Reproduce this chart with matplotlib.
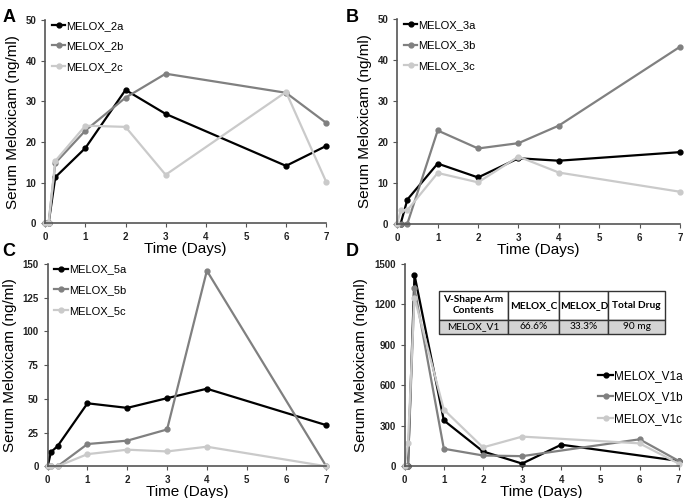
import matplotlib
matplotlib.use('Agg')
import matplotlib.pyplot as plt

plt.rcParams['font.family'] = ['Liberation Sans', 'DejaVu Sans']

# colours of the three replicates
colors = ['#000000', '#808080', '#cacaca']

# Panel A
time_a = [0, 0.083, 0.25, 1, 2, 3, 6, 7]
melox_2a = [0, 0, 11.3, 18.5, 32.8, 26.9, 14.1, 19.0]
melox_2b = [0, 0, 14.8, 22.8, 30.9, 36.8, 32.1, 24.7]
melox_2c = [0, 0, 15.3, 24.0, 23.7, 11.9, 32.3, 10.2]

# Panel B
time_b = [0, 0.083, 0.25, 1, 2, 3, 4, 7]
melox_3a = [0, 0, 5.9, 14.7, 11.3, 16.0, 15.4, 17.5]
melox_3b = [0, 0, 0, 22.8, 18.4, 19.7, 24.0, 43.3]
melox_3c = [0, 3.3, 3.3, 12.4, 10.1, 16.4, 12.5, 7.8]

# Panel C
time_c = [0, 0.083, 0.25, 1, 2, 3, 4, 7]
melox_5a = [0, 10.5, 15.0, 46.7, 43.3, 50.5, 57.5, 30.5]
melox_5b = [0, 0, 0, 16.5, 19.0, 27.3, 145.0, 0]
melox_5c = [0, 0, 0, 9.0, 12.3, 11.0, 14.5, 0]

# Panel D (replicates sampled at different days)
time_v1a = [0, 0.083, 0.25, 1, 2, 3, 4, 7]
melox_v1a = [0, 0, 1420, 340, 110, 20, 160, 40]
time_v1b = [0, 0.083, 0.25, 1, 2, 3, 6, 7]
melox_v1b = [0, 0, 1320, 130, 80, 75, 200, 40]
time_v1c = [0, 0.083, 0.25, 1, 2, 3, 6, 7]
melox_v1c = [0, 170, 1250, 420, 140, 220, 170, 20]

table_header = ['V-Shape Arm\nContents', 'MELOX_C', 'MELOX_D', 'Total Drug']
table_row = ['MELOX_V1', '66.6%', '33.3%', '90 mg']

fig = plt.figure(figsize=(6.85, 4.98), dpi=100)


def style_axes(ax, ymax, yticks):
    ax.set_xlim(0, 7)
    ax.set_ylim(0, ymax)
    ax.set_xticks(range(8))
    ax.set_yticks(yticks)
    ax.spines['top'].set_visible(False)
    ax.spines['right'].set_visible(False)
    for s in ['left', 'bottom']:
        ax.spines[s].set_color('#555555')
        ax.spines[s].set_linewidth(1.2)
    ax.tick_params(direction='out', length=3, width=0.8, colors='#555555', labelsize=7,
                   labelcolor='#222222')
    for lab in ax.get_xticklabels() + ax.get_yticklabels():
        lab.set_fontweight('bold')
    ax.set_xlabel('Time (Days)', fontsize=11, labelpad=0)
    ax.set_ylabel('Serum Meloxicam (ng/ml)', fontsize=11, labelpad=4)
    ax.patch.set_alpha(0)


def draw(ax, series):
    for (x, y, name), c in zip(series, colors):
        ax.plot(x, y, color=c, lw=1.6, marker='o', ms=3.5, label=name, clip_on=False)


axA = fig.add_axes([0.0661, 0.552, 0.410, 0.4076])
draw(axA, [(time_a, melox_2a, 'MELOX_2a'), (time_a, melox_2b, 'MELOX_2b'),
           (time_a, melox_2c, 'MELOX_2c')])
style_axes(axA, 50, range(0, 51, 10))

axB = fig.add_axes([0.580, 0.551, 0.4127, 0.410])
draw(axB, [(time_b, melox_3a, 'MELOX_3a'), (time_b, melox_3b, 'MELOX_3b'),
           (time_b, melox_3c, 'MELOX_3c')])
style_axes(axB, 50, range(0, 51, 10))

axC = fig.add_axes([0.0696, 0.0637, 0.4067, 0.4062])
draw(axC, [(time_c, melox_5a, 'MELOX_5a'), (time_c, melox_5b, 'MELOX_5b'),
           (time_c, melox_5c, 'MELOX_5c')])
style_axes(axC, 150, range(0, 151, 25))

axD = fig.add_axes([0.5908, 0.0637, 0.400, 0.4062])
draw(axD, [(time_v1a, melox_v1a, 'MELOX_V1a'), (time_v1b, melox_v1b, 'MELOX_V1b'),
           (time_v1c, melox_v1c, 'MELOX_V1c')])
style_axes(axD, 1500, range(0, 1501, 300))

for ax in [axA, axB, axC]:
    ax.legend(loc='upper left', bbox_to_anchor=(0.0, 1.03), frameon=False, fontsize=8,
              handlelength=1.2, handletextpad=0.1, labelspacing=0.95, borderaxespad=0.2)
axD.legend(loc='center left', bbox_to_anchor=(0.69, 0.34), frameon=False, fontsize=8.5,
           handlelength=1.2, handletextpad=0.1, labelspacing=0.8, borderaxespad=0)

# table in panel D
tbl = axD.table(cellText=[table_row], colLabels=table_header, cellLoc='center',
                colWidths=[206, 156, 147, 170], bbox=[0.125, 0.654, 0.825, 0.214])
tbl.auto_set_font_size(False)
for (r, c), cell in tbl.get_celld().items():
    cell.set_edgecolor('#333333')
    cell.set_linewidth(1.0)
    cell.get_text().set_fontfamily(['Lato', 'DejaVu Sans'])
    cell.get_text().set_fontsize(7.3)
    if r == 0:
        cell.set_height(0.14)
        cell.set_facecolor('white')
        cell.get_text().set_fontweight('bold')
    else:
        cell.set_height(0.07)
        cell.set_facecolor('#d4d4d4')

# panel letters
for lab, (x, y) in zip(['A', 'B', 'C', 'D'],
                       [(0.004, 0.965), (0.505, 0.965), (0.004, 0.495), (0.505, 0.495)]):
    fig.text(x, y, lab, fontsize=13, fontweight='bold', va='center')

fig.savefig('out.png', dpi=100)
